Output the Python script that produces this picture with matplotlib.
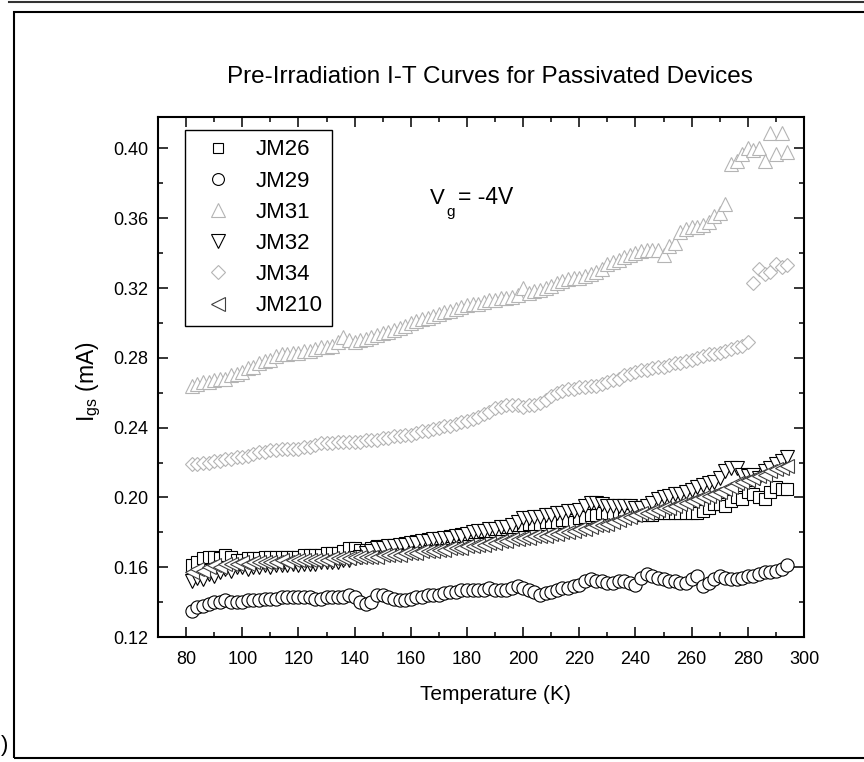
import matplotlib
matplotlib.use("Agg")
import matplotlib.pyplot as plt
from matplotlib.patches import Rectangle
from matplotlib.lines import Line2D
from matplotlib.ticker import MultipleLocator, FormatStrFormatter

plt.rcParams['font.family'] = ['Liberation Sans', 'DejaVu Sans']
plt.rcParams['mathtext.fontset'] = 'custom'
plt.rcParams['mathtext.rm'] = 'Liberation Sans'

# temperature sweep (K)
temp = [82, 84, 86, 88, 90, 92, 94, 96, 98, 100,
        102, 104, 106, 108, 110, 112, 114, 116, 118, 120,
        122, 124, 126, 128, 130, 132, 134, 136, 138, 140,
        142, 144, 146, 148, 150, 152, 154, 156, 158, 160,
        162, 164, 166, 168, 170, 172, 174, 176, 178, 180,
        182, 184, 186, 188, 190, 192, 194, 196, 198, 200,
        202, 204, 206, 208, 210, 212, 214, 216, 218, 220,
        222, 224, 226, 228, 230, 232, 234, 236, 238, 240,
        242, 244, 246, 248, 250, 252, 254, 256, 258, 260,
        262, 264, 266, 268, 270, 272, 274, 276, 278, 280,
        282, 284, 286, 288, 290, 292, 294]

# gate current (mA) per device
jm26 = [0.161, 0.163, 0.165, 0.166, 0.166, 0.165, 0.167, 0.166, 0.164, 0.164,
        0.165, 0.165, 0.165, 0.166, 0.166, 0.166, 0.166, 0.166, 0.166, 0.166,
        0.167, 0.167, 0.167, 0.167, 0.168, 0.168, 0.168, 0.169, 0.171, 0.171,
        0.170, 0.170, 0.171, 0.172, 0.172, 0.172, 0.173, 0.173, 0.174, 0.174,
        0.175, 0.175, 0.176, 0.176, 0.177, 0.177, 0.178, 0.178, 0.179, 0.179,
        0.180, 0.180, 0.181, 0.181, 0.182, 0.182, 0.183, 0.183, 0.184, 0.184,
        0.185, 0.185, 0.185, 0.186, 0.186, 0.186, 0.187, 0.187, 0.186, 0.188,
        0.189, 0.190, 0.190, 0.191, 0.191, 0.191, 0.191, 0.191, 0.190, 0.190,
        0.190, 0.190, 0.190, 0.191, 0.191, 0.191, 0.191, 0.191, 0.191, 0.191,
        0.191, 0.192, 0.194, 0.196, 0.196, 0.195, 0.198, 0.200, 0.199, 0.203,
        0.202, 0.200, 0.199, 0.203, 0.206, 0.205, 0.205]

jm29 = [0.135, 0.137, 0.138, 0.139, 0.140, 0.140, 0.141, 0.140, 0.140, 0.140,
        0.141, 0.141, 0.141, 0.142, 0.142, 0.142, 0.143, 0.143, 0.143, 0.143,
        0.143, 0.143, 0.142, 0.142, 0.143, 0.143, 0.143, 0.143, 0.144, 0.143,
        0.140, 0.139, 0.140, 0.144, 0.144, 0.143, 0.142, 0.141, 0.141, 0.142,
        0.143, 0.143, 0.144, 0.144, 0.144, 0.145, 0.146, 0.146, 0.147, 0.147,
        0.147, 0.147, 0.147, 0.148, 0.147, 0.147, 0.147, 0.148, 0.149, 0.148,
        0.147, 0.146, 0.144, 0.145, 0.146, 0.147, 0.148, 0.148, 0.149, 0.150,
        0.152, 0.153, 0.152, 0.152, 0.151, 0.151, 0.152, 0.152, 0.151, 0.150,
        0.154, 0.156, 0.155, 0.154, 0.153, 0.152, 0.152, 0.151, 0.151, 0.153,
        0.155, 0.149, 0.151, 0.153, 0.155, 0.154, 0.153, 0.153, 0.154, 0.155,
        0.155, 0.156, 0.157, 0.157, 0.158, 0.159, 0.161]

jm31 = [0.264, 0.265, 0.266, 0.266, 0.267, 0.268, 0.268, 0.270, 0.271, 0.272,
        0.274, 0.275, 0.277, 0.278, 0.279, 0.281, 0.282, 0.282, 0.283, 0.283,
        0.284, 0.284, 0.285, 0.286, 0.286, 0.287, 0.289, 0.292, 0.290, 0.289,
        0.290, 0.291, 0.292, 0.293, 0.294, 0.295, 0.296, 0.297, 0.298, 0.300,
        0.301, 0.302, 0.303, 0.304, 0.305, 0.306, 0.307, 0.308, 0.309, 0.310,
        0.311, 0.311, 0.312, 0.313, 0.313, 0.314, 0.314, 0.315, 0.316, 0.320,
        0.317, 0.318, 0.319, 0.320, 0.321, 0.323, 0.324, 0.325, 0.326, 0.326,
        0.327, 0.328, 0.329, 0.331, 0.334, 0.335, 0.336, 0.338, 0.339, 0.340,
        0.341, 0.342, 0.342, 0.342, 0.339, 0.344, 0.346, 0.352, 0.354, 0.355,
        0.355, 0.356, 0.358, 0.361, 0.363, 0.368, 0.391, 0.393, 0.397, 0.400,
        0.399, 0.400, 0.393, 0.409, 0.397, 0.409, 0.398]

jm32 = [0.152, 0.154, 0.153, 0.156, 0.155, 0.157, 0.159, 0.158, 0.160, 0.160,
        0.159, 0.160, 0.160, 0.161, 0.160, 0.161, 0.161, 0.161, 0.162, 0.161,
        0.162, 0.162, 0.162, 0.163, 0.163, 0.163, 0.163, 0.164, 0.164, 0.165,
        0.166, 0.168, 0.169, 0.171, 0.171, 0.172, 0.172, 0.173, 0.173, 0.174,
        0.174, 0.175, 0.175, 0.176, 0.176, 0.177, 0.177, 0.178, 0.178, 0.179,
        0.180, 0.181, 0.181, 0.182, 0.182, 0.183, 0.183, 0.184, 0.186, 0.188,
        0.188, 0.189, 0.189, 0.190, 0.190, 0.191, 0.191, 0.192, 0.192, 0.193,
        0.195, 0.197, 0.197, 0.196, 0.195, 0.195, 0.195, 0.195, 0.195, 0.194,
        0.194, 0.195, 0.197, 0.199, 0.200, 0.201, 0.202, 0.202, 0.203, 0.204,
        0.206, 0.207, 0.208, 0.209, 0.211, 0.215, 0.217, 0.217, 0.213, 0.212,
        0.213, 0.211, 0.215, 0.217, 0.219, 0.221, 0.223]

jm34 = [0.219, 0.219, 0.220, 0.220, 0.221, 0.221, 0.222, 0.222, 0.223, 0.223,
        0.224, 0.225, 0.226, 0.226, 0.227, 0.227, 0.228, 0.228, 0.228, 0.228,
        0.229, 0.229, 0.230, 0.231, 0.231, 0.231, 0.232, 0.232, 0.232, 0.232,
        0.232, 0.233, 0.233, 0.233, 0.234, 0.234, 0.235, 0.235, 0.236, 0.236,
        0.237, 0.238, 0.238, 0.239, 0.240, 0.241, 0.241, 0.242, 0.243, 0.244,
        0.245, 0.246, 0.248, 0.249, 0.251, 0.252, 0.253, 0.253, 0.253, 0.252,
        0.253, 0.253, 0.254, 0.256, 0.258, 0.260, 0.261, 0.262, 0.262, 0.263,
        0.263, 0.264, 0.264, 0.265, 0.266, 0.267, 0.268, 0.270, 0.271, 0.272,
        0.273, 0.273, 0.274, 0.275, 0.275, 0.276, 0.277, 0.277, 0.278, 0.279,
        0.280, 0.281, 0.282, 0.282, 0.283, 0.284, 0.285, 0.286, 0.287, 0.289,
        0.323, 0.331, 0.328, 0.329, 0.334, 0.332, 0.333]

jm210 = [0.157, 0.159, 0.158, 0.160, 0.161, 0.160, 0.162, 0.162, 0.162, 0.163,
         0.162, 0.163, 0.163, 0.163, 0.163, 0.163, 0.164, 0.163, 0.164, 0.164,
         0.164, 0.164, 0.164, 0.164, 0.164, 0.165, 0.165, 0.165, 0.165, 0.166,
         0.166, 0.166, 0.166, 0.166, 0.167, 0.167, 0.167, 0.167, 0.168, 0.168,
         0.168, 0.169, 0.169, 0.169, 0.170, 0.170, 0.171, 0.171, 0.171, 0.172,
         0.172, 0.173, 0.173, 0.174, 0.174, 0.175, 0.175, 0.176, 0.176, 0.177,
         0.177, 0.178, 0.178, 0.178, 0.179, 0.179, 0.180, 0.180, 0.181, 0.182,
         0.182, 0.183, 0.184, 0.184, 0.185, 0.186, 0.187, 0.188, 0.189, 0.190,
         0.191, 0.191, 0.192, 0.193, 0.194, 0.194, 0.195, 0.196, 0.197, 0.198,
         0.199, 0.200, 0.201, 0.202, 0.203, 0.205, 0.206, 0.208, 0.209, 0.210,
         0.211, 0.212, 0.213, 0.215, 0.216, 0.217, 0.218]

labels = ['JM26', 'JM29', 'JM31', 'JM32', 'JM34', 'JM210']
series = [jm26, jm29, jm31, jm32, jm34, jm210]
markers = ['s', 'o', '^', 'v', 'D', '<']
colors = ['black', 'black', '#b4b4b4', 'black', '#b4b4b4', '#404040']
sizes = [8.5, 9.5, 10.5, 10.5, 7.5, 10.5]

W, H = 864, 762
fig = plt.figure(figsize=(W / 100, H / 100), dpi=100)

# axes box in pixels: left 158, right 804, top 117, bottom 637
ax = fig.add_axes([158 / W, (H - 637) / H, (804 - 158) / W, (637 - 117) / H])

for y, lab, m, c, s in zip(series, labels, markers, colors, sizes):
    ax.plot(temp, y, linestyle='none', marker=m, markersize=s,
            markerfacecolor='white', markeredgecolor=c, markeredgewidth=0.8,
            label=lab)

ax.set_xlim(70, 300)
ax.set_ylim(0.12, 0.418)
ax.set_xticks([80, 100, 120, 140, 160, 180, 200, 220, 240, 260, 280, 300])
ax.xaxis.set_minor_locator(MultipleLocator(10))
ax.yaxis.set_major_locator(MultipleLocator(0.04))
ax.yaxis.set_minor_locator(MultipleLocator(0.02))
ax.yaxis.set_major_formatter(FormatStrFormatter('%.2f'))
ax.xaxis.set_major_formatter(FormatStrFormatter('%d'))

ax.tick_params(which='both', direction='in', top=True, right=True, width=1.1)
ax.tick_params(which='major', length=7, labelsize=13)
ax.tick_params(axis='x', which='major', pad=10)
ax.tick_params(axis='y', which='major', pad=7)
ax.tick_params(which='minor', length=3.5)
for sp in ax.spines.values():
    sp.set_linewidth(1.5)

ax.set_xlabel('Temperature (K)', fontsize=15)
ax.xaxis.set_label_coords((495.5 - 158) / 646, -(685 - 637) / 520)
ax.set_ylabel(r'I$_\mathregular{gs}$ (mA)', fontsize=16.5)
ax.yaxis.set_label_coords((103 - 158) / 646, 0.49)

leg = ax.legend(loc='upper left', bbox_to_anchor=(185 / W, 1 - 130 / H),
                bbox_transform=fig.transFigure, borderaxespad=0,
                fontsize=16, frameon=True, fancybox=False, framealpha=1,
                edgecolor='black', borderpad=0.42, handlelength=2.1,
                handletextpad=0.65, labelspacing=0.46)
leg.get_frame().set_linewidth(1.0)
for h in leg.legend_handles:
    h.set_markersize(h.get_markersize() * 0.9)

fig.text(490 / W, 1 - 77 / H, 'Pre-Irradiation I-T Curves for Passivated Devices',
         ha='center', va='center', fontsize=17.5)

# V_g annotation, subscript set low as in the original
fig.text(430 / W, 1 - 204 / H, 'V', ha='left', va='baseline', fontsize=16)
fig.text(446 / W, 1 - 216 / H, 'g', ha='left', va='baseline', fontsize=11)
fig.text(458 / W, 1 - 204 / H, '= -4V', ha='left', va='baseline', fontsize=16.5)

# page frame around the chart and remnants of neighbouring panels
fig.add_artist(Rectangle((14 / W, (H - 758) / H), (880 - 14) / W, (758 - 11.5) / H,
                         transform=fig.transFigure, fill=False, lw=1.5,
                         edgecolor='black', clip_on=False))
fig.add_artist(Line2D([9 / W, 1.0], [1 - 1.5 / H, 1 - 1.5 / H],
                      transform=fig.transFigure, color='#333333', lw=1.5))
fig.text(0.5 / W, 1 - 746 / H, ')', ha='left', va='center', fontsize=16)

fig.savefig('out.png', dpi=100)
